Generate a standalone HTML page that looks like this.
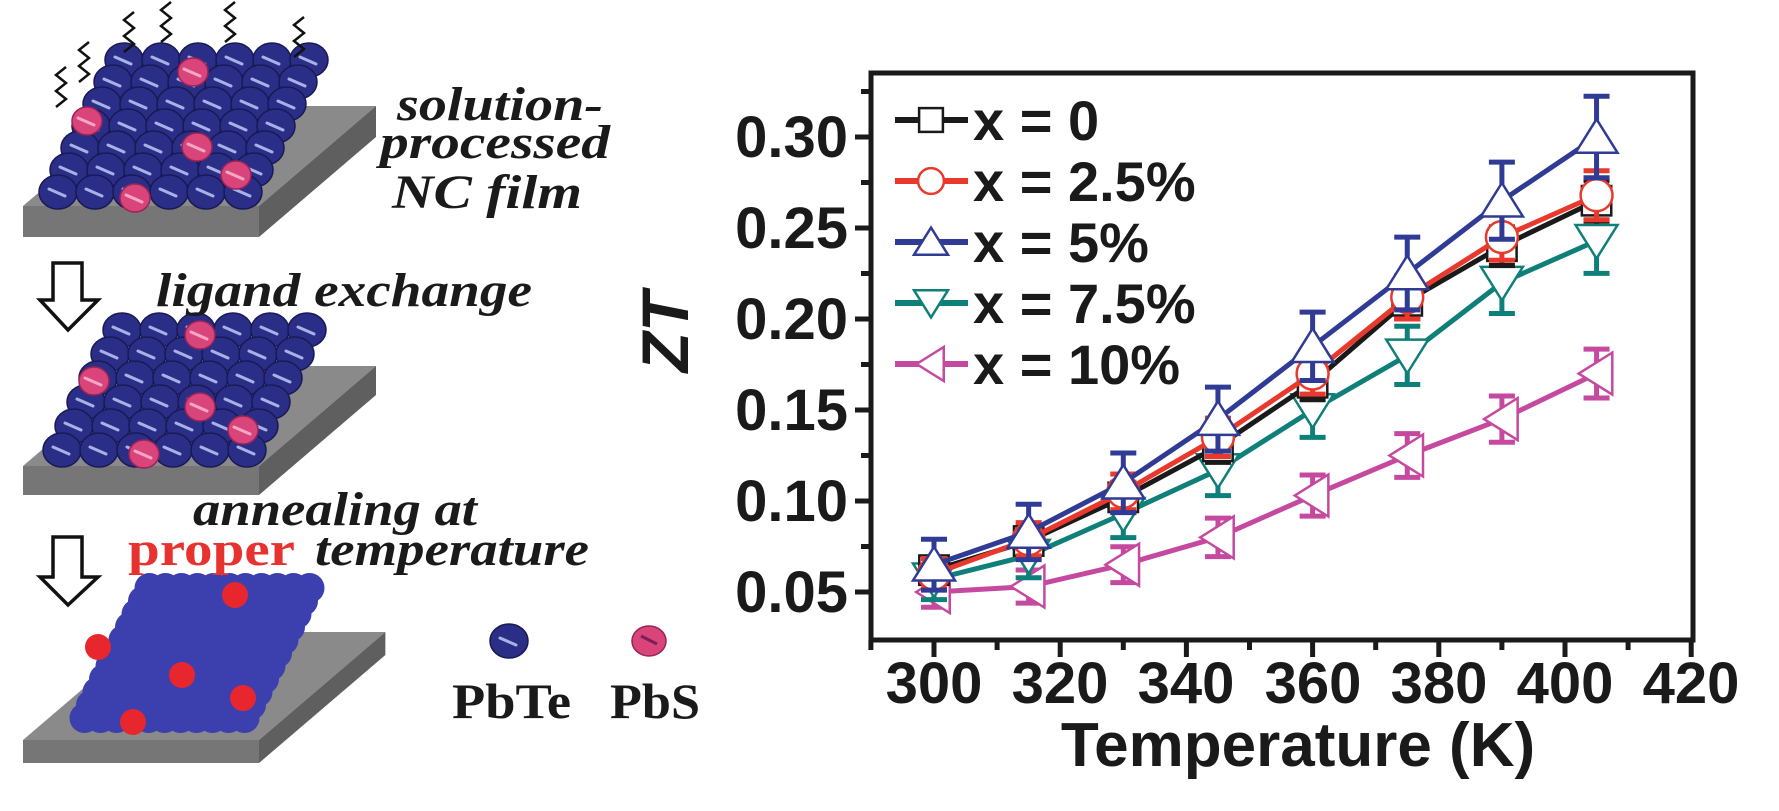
<!DOCTYPE html>
<html><head><meta charset="utf-8"><style>
html,body{margin:0;padding:0;background:#fff;}
svg{display:block;}
.ax{font-family:"Liberation Sans",Arial,sans-serif;font-weight:bold;fill:#1a1a1a;}
.sr{font-family:"Liberation Serif",serif;font-weight:bold;fill:#1a1a1a;}
</style></head><body>
<svg id="s" width="1779" height="811" viewBox="0 0 1779 811" xmlns="http://www.w3.org/2000/svg">
<rect width="1779" height="811" fill="#fff"/>
<g id="left"></g>
<g id="plot"></g>
<text class="sr" font-style="italic" font-size="48" x="397" y="120" textLength="206" lengthAdjust="spacingAndGlyphs">solution-</text>
<text class="sr" font-style="italic" font-size="48" x="380" y="158" textLength="230" lengthAdjust="spacingAndGlyphs">processed</text>
<text class="sr" font-style="italic" font-size="48" x="392" y="208" textLength="190" lengthAdjust="spacingAndGlyphs">NC film</text>
<text class="sr" font-style="italic" font-size="48" x="156" y="306" textLength="376" lengthAdjust="spacingAndGlyphs">ligand exchange</text>
<text class="sr" font-style="italic" font-size="48" x="193" y="525" textLength="284" lengthAdjust="spacingAndGlyphs">annealing at</text>
<text class="sr" font-size="48" x="128" y="565" textLength="167" lengthAdjust="spacingAndGlyphs" style="fill:#e8322f">proper</text>
<text class="sr" font-style="italic" font-size="48" x="315" y="565" textLength="274" lengthAdjust="spacingAndGlyphs">temperature</text>
<text class="sr" font-size="50" x="452" y="718" textLength="119" lengthAdjust="spacingAndGlyphs">PbTe</text>
<text class="sr" font-size="50" x="610" y="718" textLength="90" lengthAdjust="spacingAndGlyphs">PbS</text>
<g class="ax" font-size="58" text-anchor="end">
<text x="848" y="157">0.30</text><text x="848" y="248">0.25</text><text x="848" y="339">0.20</text>
<text x="848" y="430">0.15</text><text x="848" y="521">0.10</text><text x="848" y="612">0.05</text>
</g>
<g class="ax" font-size="58" text-anchor="middle">
<text x="934" y="703">300</text><text x="1060" y="703">320</text><text x="1186" y="703">340</text>
<text x="1313" y="703">360</text><text x="1439" y="703">380</text><text x="1565" y="703">400</text><text x="1691" y="703">420</text>
</g>
<text class="ax" font-size="62" x="1298" y="766" text-anchor="middle">Temperature (K)</text>
<text class="ax" font-size="66" font-style="italic" transform="translate(688,332) rotate(-90)" text-anchor="middle">ZT</text>
<g class="ax" font-size="56">
<text x="973" y="140">x = 0</text><text x="973" y="201">x = 2.5%</text><text x="973" y="262">x = 5%</text>
<text x="973" y="323">x = 7.5%</text><text x="973" y="384">x = 10%</text>
</g>
</svg>
<script>
var NS="http://www.w3.org/2000/svg";
function el(p,t,a){var e=document.createElementNS(NS,t);for(var k in a)e.setAttribute(k,a[k]);p.appendChild(e);return e;}
var L=document.getElementById('left'),P=document.getElementById('plot');
function plate(yb,yf,yfb){
  var d=yf-yb;
  el(L,'polygon',{points:[23,yf,259,yf,259+117*(d/100),yb,23+117*(d/100),yb].join(' '),fill:'#8a8a8a'});
  el(L,'polygon',{points:[23,yf,259,yf,259,yfb,23,yfb].join(' '),fill:'#767676'});
  var xr=259+117*(d/100);
  el(L,'polygon',{points:[259,yf,xr,yb,xr,yb+(yfb-yf),259,yfb].join(' '),fill:'#5f5f5f'});
}
plate(106,206,237);plate(366,466,495);plate(632,740,763);
function ball(x,y,pink){
  var g=el(L,'g',{transform:'translate('+x+','+y+')'});
  el(g,'ellipse',{cx:0,cy:0,rx:pink?15:19,ry:pink?14:17,fill:pink?'#d9457a':'#2b2e86',stroke:pink?'#9a2456':'#181a55','stroke-width':1.5});
  el(g,'line',{x1:-9,y1:-3,x2:7,y2:4,stroke:pink?'#f4a6c4':'#a9b0e6','stroke-width':3,'stroke-linecap':'round'});
}
for(var r=6;r>=0;r--){var y=192-r*22;for(var x=58+r*11;x<=258+r*12;x+=37)ball(x,y,false);}
[[87,121],[197,147],[236,175],[135,198],[193,72]].forEach(function(p){ball(p[0],p[1],true);});
[[60,95],[83,70],[128,40],[165,30],[229,30],[298,45]].forEach(function(p){
  var x=p[0],y=p[1],pts=[];for(var i=0;i<6;i++){pts.push((x+(i%2?6:-4))+','+(y+12-i*8));}
  el(L,'polyline',{points:pts.join(' '),fill:'none',stroke:'#111','stroke-width':2.5});
});
for(var r=5;r>=0;r--){var y=450-r*24;for(var x=62+r*12;x<=258+r*12;x+=37)ball(x,y,false);}
[[94,381],[200,335],[200,407],[243,430],[144,454]].forEach(function(p){ball(p[0],p[1],true);});
for(var y=588;y<=726;y+=13){var xs=63+(733-y)*0.5,xe=257+(733-y)*0.5;for(var x=xs+14;x<=xe-10;x+=16)el(L,'circle',{cx:x,cy:y,r:15,fill:'#3b40ae'});}
[[235,595],[98,647],[182,675],[243,698],[133,722]].forEach(function(p){el(L,'circle',{cx:p[0],cy:p[1],r:13,fill:'#e8262e'});});
ball(509,641,false);
el(L,'ellipse',{cx:649,cy:641,rx:17,ry:15,fill:'#d9457a',stroke:'#9a2456','stroke-width':1.5});
el(L,'line',{x1:641,y1:636,x2:657,y2:644,stroke:'#7a1f5a','stroke-width':3});
function arrow(t,h,b){el(L,'polygon',{points:[53,t,82,t,82,h,98,h,68,b,40,h,53,h].join(' '),fill:'#fff',stroke:'#111','stroke-width':3.5});}
arrow(263,300,330);arrow(537,577,605);

var X=function(T){return 934+(T-300)*6.31;},Y=function(v){return 137+(0.30-v)*1820;};
for(var v=0.05;v<0.331;v+=0.025){var maj=Math.abs((v*100)%5)<0.01||Math.abs((v*100)%5-5)<0.01;
  el(P,'line',{x1:871-(maj?16:10),y1:Y(v),x2:871,y2:Y(v),stroke:'#1a1a1a','stroke-width':5});}
for(var T=290;T<=420;T+=10){var maj=(T%20==0);el(P,'line',{x1:X(T),y1:640,x2:X(T),y2:640+(maj?17:10),stroke:'#1a1a1a','stroke-width':5});}
el(P,'rect',{x:871,y:73,width:822,height:567,fill:'none',stroke:'#1a1a1a','stroke-width':5});
var Ts=[300,315,330,345,360,375,390,405];
var S=[
 {c:'#c54a9f',m:'tl',d:[0.05,0.053,0.065,0.08,0.103,0.125,0.145,0.17],e:0.012},
 {c:'#0f7f7a',m:'td',d:[0.057,0.07,0.093,0.117,0.15,0.18,0.22,0.243],e:0.016},
 {c:'#1a1a1a',m:'sq',d:[0.062,0.078,0.102,0.13,0.165,0.21,0.24,0.265],e:0.01},
 {c:'#e8392c',m:'ci',d:[0.06,0.079,0.105,0.135,0.17,0.212,0.245,0.268],e:0.012},
 {c:'#2f3b95',m:'tu',d:[0.065,0.083,0.11,0.145,0.185,0.225,0.265,0.30],e:0.02}
];
function marker(g,m,x,y,c,s){
  var a={fill:'#fff',stroke:c,'stroke-width':2.5};
  if(m=='sq'){a.x=x-s*0.35;a.y=y-s*0.35;a.width=s*0.7;a.height=s*0.7;el(g,'rect',a);}
  else if(m=='ci'){a.cx=x;a.cy=y;a.r=s*0.38;el(g,'circle',a);}
  else{var h=s*0.5,w=s*0.5,p;
    if(m=='tu')p=[x,y-h*0.85,x+w,y+h*0.75,x-w,y+h*0.75];
    else if(m=='td')p=[x,y+h*0.85,x+w,y-h*0.75,x-w,y-h*0.75];
    else p=[x-h*0.85,y,x+h*0.75,y-w,x+h*0.75,y+w];
    a.points=p.join(' ');el(g,'polygon',a);}
}
S.forEach(function(s){
  var g=el(P,'g',{});
  el(g,'polyline',{points:Ts.map(function(T,i){return X(T)+','+Y(s.d[i]);}).join(' '),fill:'none',stroke:s.c,'stroke-width':5});
  Ts.forEach(function(T,i){var x=X(T),y=Y(s.d[i]),e=s.e*(0.7+i*0.06);
    el(g,'line',{x1:x,y1:Y(s.d[i]+e),x2:x,y2:Y(s.d[i]-e),stroke:s.c,'stroke-width':5});
    el(g,'line',{x1:x-13,y1:Y(s.d[i]+e),x2:x+13,y2:Y(s.d[i]+e),stroke:s.c,'stroke-width':5});
    el(g,'line',{x1:x-13,y1:Y(s.d[i]-e),x2:x+13,y2:Y(s.d[i]-e),stroke:s.c,'stroke-width':5});
    marker(g,s.m,x,y,s.c,42);
  });
});
var LY=[120,181,242,303,364],LM=['sq','ci','tu','td','tl'],LC=['#1a1a1a','#e8392c','#2f3b95','#0f7f7a','#c54a9f'];
LY.forEach(function(y,i){el(P,'line',{x1:895,y1:y,x2:968,y2:y,stroke:LC[i],'stroke-width':6});marker(P,LM[i],931,y,LC[i],34);});
</script>
</body></html>
